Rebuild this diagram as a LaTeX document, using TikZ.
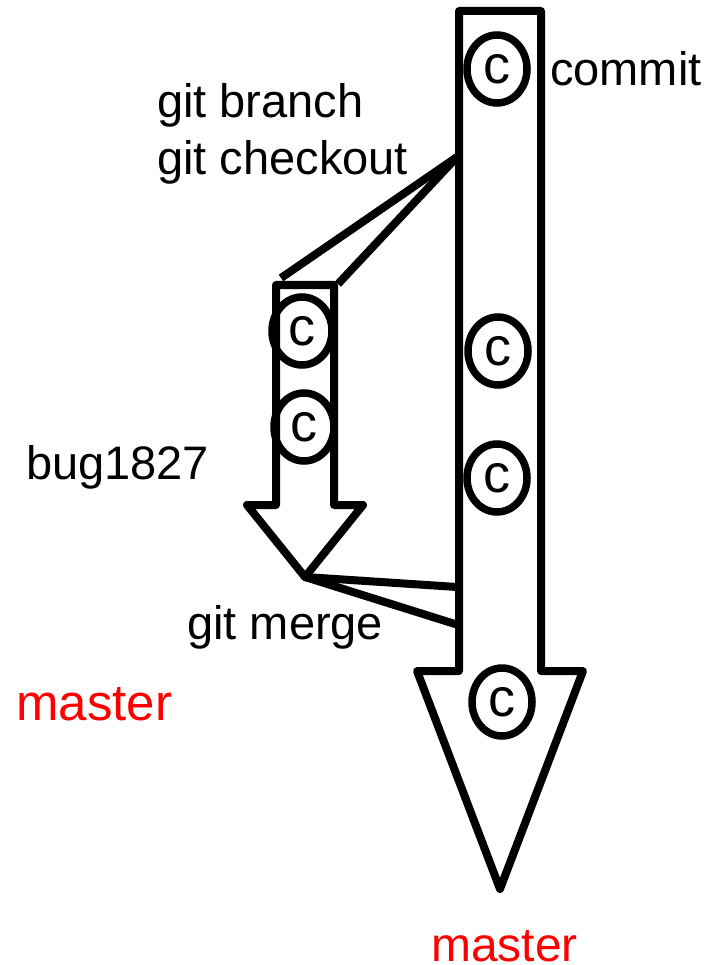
\documentclass[tikz,border=0pt]{standalone}
\usepackage{fontspec}
\setmainfont{Liberation Sans}
\usetikzlibrary{shapes.geometric}
\begin{document}
\begin{tikzpicture}[x=1pt,y=-1pt,
  outline/.style={draw=black,line width=8pt,line join=round},
  link/.style={draw=black,line width=8pt},
  commitc/.style={draw=black,line width=7.5pt,ellipse,inner sep=0pt,
    minimum width=60pt,minimum height=68pt,font=\fontsize{54}{60}\selectfont},
  label/.style={anchor=base west,inner sep=0pt,font=\fontsize{47}{56}\selectfont},
  branchname/.style={anchor=base west,inner sep=0pt,text=red,font=\fontsize{48}{56}\selectfont}]
\useasboundingbox (0,0) rectangle (706,965);

% main line (master)
\coordinate (mtl) at (459,11);
\coordinate (mtr) at (541,11);
\coordinate (mtip) at (500,889);
\draw[outline] (mtl) -- (mtr) -- (541,671) -- (583,671) -- (mtip)
  -- (417,671) -- (459,671) -- cycle;

% side line (bug1827)
\coordinate (btl) at (276,285);
\coordinate (btr) at (334,285);
\coordinate (btip) at (305,577);
\draw[outline] (btl) -- (btr) -- (334,505) -- (363,505) -- (btip)
  -- (247,505) -- (276,505) -- cycle;

% branching off and merging back
\coordinate (fork) at (457,157);
\coordinate (forkl) at (281,278);
\coordinate (forkr) at (338,284);
\coordinate (mergea) at (457,587);
\coordinate (mergeb) at (455,624);
\draw[link] (fork) -- (forkl);
\draw[link] (fork) -- (forkr);
\draw[link,line cap=round] (btip) -- (mergea);
\draw[link,line cap=round] (btip) -- (mergeb);

% commits
\node[commitc] (c1) at (497,69) {c};
\node[commitc] (c2) at (498,351) {c};
\node[commitc] (c3) at (497,478) {c};
\node[commitc] (c4) at (502,702) {c};
\node[commitc] (c5) at (302,331) {c};
\node[commitc] (c6) at (304,427) {c};

% labels
\node[label] (lcommit) at (550,86) {commit};
\node[label] (lbranch) at (157,118) {git branch};
\node[label] (lcheckout) at (157,175) {git checkout};
\node[label] (lbug) at (26,479) {bug1827};
\node[label] (lmerge) at (187,639) {git merge};
\node[branchname,font=\fontsize{51}{60}\selectfont] (lmaster1) at (16,720) {master};
\node[branchname] (lmaster2) at (431,961) {master};
\end{tikzpicture}
\end{document}
